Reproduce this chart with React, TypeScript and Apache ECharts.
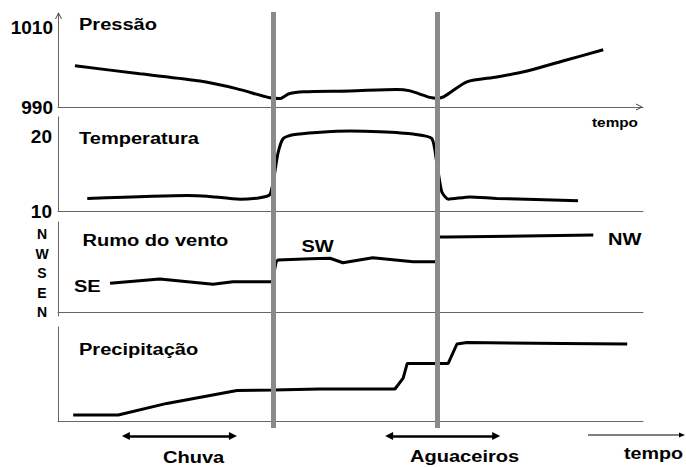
import React, { useEffect, useRef } from "react";
import * as echarts from "echarts";

// time axis (arbitrary units 0..100)
const pressureT = [2.9, 14.0, 24.3, 30.5, 36.2, 37.9, 39.5, 42.0, 49.9, 57.9, 60.0, 63.6, 64.8, 66.0, 69.9, 75.0, 80.2, 86.3, 93.2];
const pressureV = [1000.3, 998.3, 996.5, 994.6, 992.3, 992.1, 993.3, 993.8, 994.0, 994.4, 994.1, 992.4, 992.2, 992.6, 996.3, 997.5, 999.0, 1001.5, 1004.3];

const tempT = [5.0, 22.1, 25.5, 31.1, 34.5, 36.2, 36.8, 37.6, 38.5, 40.2, 44.3, 49.9, 55.0, 60.7, 63.9, 64.8, 65.6, 66.7, 70.4, 75.0, 88.9];
const tempV = [11.7, 12.1, 12.0, 11.6, 11.8, 12.2, 14.0, 17.8, 19.8, 20.3, 20.6, 20.8, 20.7, 20.4, 19.8, 16.2, 12.6, 11.6, 11.9, 11.7, 11.4];

// wind direction: 0=N, 1=E, 2=S, 3=W, 4=N
const windT = [8.9, 17.4, 26.5, 29.9, 36.6, 37.3, 37.6, 43.1, 46.5, 48.7, 53.8, 60.7, 64.7, 64.8, 66.5, 91.5];
const windV = [1.48, 1.7, 1.43, 1.56, 1.56, 2.58, 2.67, 2.74, 2.76, 2.53, 2.79, 2.58, 2.58, 3.85, 3.85, 3.95];

const precipT = [2.6, 10.3, 18.6, 30.6, 36.8, 44.8, 57.6, 59.0, 59.7, 66.7, 68.2, 69.9, 86.3, 97.3];
const precipV = [1.5, 1.5, 4.4, 7.6, 7.75, 8.0, 8.0, 10.7, 14.4, 14.4, 19.25, 19.6, 19.4, 19.25];

const fronts = [36.84, 64.87];
const chuvaPeriod = [11.6, 29.9];
const aguaceirosPeriod = [56.6, 74.9];

const pressureTicks = [990, 1010];
const tempTicks = [10, 20];
const windLabels = ["N", "E", "S", "W", "N"];

const FONT = "'Liberation Sans', Arial, sans-serif";
const AXIS = "#666";

const zip = (a: number[], b: number[]) => a.map((x, i) => [x, b[i]]);

function txt(text: string, x: number, y: number, size: number, sx = 1.18) {
  return {
    type: "text",
    x,
    y,
    scaleX: sx,
    z: 100,
    style: {
      text,
      fill: "#000",
      font: `bold ${size}px ${FONT}`,
      align: "left",
      verticalAlign: "middle",
    },
  };
}

export default function App() {
  const ref = useRef<HTMLDivElement>(null);
  useEffect(() => {
    if (!ref.current) return;
    const chart = echarts.init(ref.current, undefined, { renderer: "svg" });
    const L = 58;
    const R = 686 - 643;
    const grids = [
      { left: L, right: R, top: 13, bottom: 467 - 107 },
      { left: L, right: R, top: 117, bottom: 467 - 211 },
      { left: L, right: R, top: 222, bottom: 467 - 316 },
      { left: L, right: R, top: 327, bottom: 467 - 421 },
      { left: L, right: R, top: 12, bottom: 467 - 428 },
      { left: L, right: R, top: 430, height: 12 },
    ];
    const xAxes = grids.map((_, i) => ({
      type: "value",
      gridIndex: i,
      min: 0,
      max: 100,
      show: i < 4,
      axisLine: { show: i < 4, lineStyle: { color: AXIS, width: 1 } },
      axisTick: { show: false },
      axisLabel: { show: false },
      splitLine: { show: false },
    }));
    const baseY = {
      type: "value",
      axisLine: { show: true, lineStyle: { color: AXIS, width: 1 } },
      axisTick: { show: false },
      splitLine: { show: false },
    };
    const yAxes = [
      {
        ...baseY,
        gridIndex: 0,
        min: 990,
        max: 1013.5,
        interval: 20,
        axisLabel: {
          margin: 5,
          color: "#000",
          fontWeight: "bold",
          fontSize: 19,
          fontFamily: FONT,
          formatter: (v: number) => (pressureTicks.includes(v) ? String(v) : ""),
        },
      },
      {
        ...baseY,
        gridIndex: 1,
        min: 10,
        max: 22.7,
        interval: 10,
        axisLabel: {
          margin: 6,
          color: "#000",
          fontWeight: "bold",
          fontSize: 19,
          fontFamily: FONT,
          formatter: (v: number) => (tempTicks.includes(v) ? String(v) : ""),
        },
      },
      {
        ...baseY,
        gridIndex: 2,
        min: -0.2,
        max: 4.62,
        interval: 0.2,
        axisLabel: {
          margin: 16,
          align: "center",
          color: "#000",
          fontWeight: "bold",
          fontSize: 14,
          fontFamily: FONT,
          formatter: (v: number) => {
            const r = Math.round(v);
            if (Math.abs(v - r) < 1e-6 && r >= 0 && r < windLabels.length) return windLabels[r];
            return "";
          },
        },
      },
      {
        ...baseY,
        gridIndex: 3,
        min: 0,
        max: 23.5,
        axisLabel: { show: false },
      },
      { type: "value", gridIndex: 4, min: 0, max: 1, show: false },
      { type: "value", gridIndex: 5, min: 0, max: 1, show: false },
    ];
    const lineSeries = (i: number, data: number[][], smooth: number | boolean) => ({
      type: "line",
      xAxisIndex: i,
      yAxisIndex: i,
      data,
      smooth,
      showSymbol: false,
      symbol: "none",
      silent: true,
      lineStyle: { color: "#000", width: 3 },
      z: 2,
    });
    const option = {
      animation: false,
      grid: grids,
      xAxis: xAxes,
      yAxis: yAxes,
      series: [
        lineSeries(0, zip(pressureT, pressureV), 0.25),
        lineSeries(1, zip(tempT, tempV), 0.2),
        lineSeries(2, zip(windT, windV), false),
        lineSeries(3, zip(precipT, precipV), false),
        {
          type: "line",
          xAxisIndex: 4,
          yAxisIndex: 4,
          data: [],
          silent: true,
          z: 10,
          markLine: {
            silent: true,
            symbol: ["none", "none"],
            label: { show: false },
            lineStyle: { color: "#8a8a8a", width: 5, type: "solid" },
            emphasis: { disabled: true },
            data: fronts.map((f) => ({ xAxis: f })),
          },
        },
        {
          type: "line",
          xAxisIndex: 5,
          yAxisIndex: 5,
          data: [],
          silent: true,
          z: 10,
          markLine: {
            silent: true,
            symbol: ["triangle", "triangle"],
            symbolSize: [8, 8],
            label: { show: false },
            lineStyle: { color: "#000", width: 2.5, type: "solid" },
            itemStyle: { color: "#000" },
            emphasis: { disabled: true },
            data: [chuvaPeriod, aguaceirosPeriod].map((p) => [
              { coord: [p[0], 0.5] },
              { coord: [p[1], 0.5] },
            ]),
          },
        },
      ],
      graphic: [
        txt("Pressão", 79, 24, 17),
        txt("Temperatura", 79, 138.5, 17),
        txt("Rumo do vento", 82.5, 240.5, 17),
        txt("Precipitação", 79, 349, 17),
        txt("SE", 74, 286, 17),
        txt("SW", 301.5, 246.5, 17),
        txt("NW", 608, 239, 17),
        txt("Chuva", 163, 457, 17),
        txt("Aguaceiros", 410, 456, 17),
        txt("tempo", 624, 452.5, 17, 1.16),
        txt("tempo", 592, 122, 13),
        {
          type: "polyline",
          z: 100,
          shape: { points: [[55.5, 19], [58.5, 13], [61.5, 19]] },
          style: { stroke: "#444", lineWidth: 1, fill: "none" },
        },
        {
          type: "polyline",
          z: 100,
          shape: { points: [[636, 104], [642, 107], [636, 110]] },
          style: { stroke: "#444", lineWidth: 1, fill: "none" },
        },
        {
          type: "line",
          z: 100,
          shape: { x1: 588, y1: 435, x2: 680, y2: 435 },
          style: { stroke: "#000", lineWidth: 1 },
        },
        {
          type: "polygon",
          z: 100,
          shape: { points: [[679, 432.5], [685, 435], [679, 437.5]] },
          style: { fill: "#000" },
        },
      ],
    };
    chart.setOption(option as any);
    return () => chart.dispose();
  }, []);
  return (
    <div
      ref={ref}
      style={{ position: "fixed", left: 0, top: 0, width: 686, height: 467, background: "#fff" }}
    />
  );
}
